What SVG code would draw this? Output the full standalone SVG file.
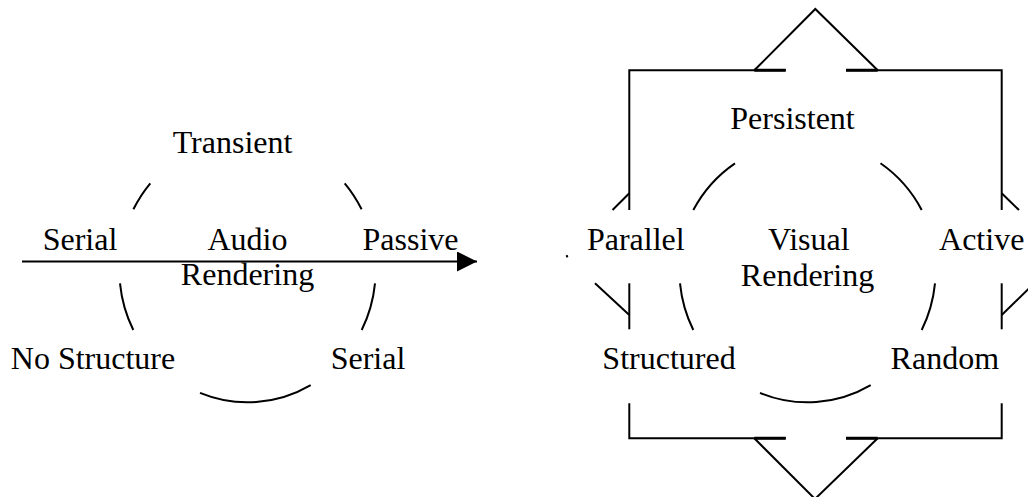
<svg xmlns="http://www.w3.org/2000/svg" width="1028" height="497" viewBox="0 0 1028 497">
  <defs>
    <style>
      .lbl { font-family: "Liberation Serif", "Times New Roman", serif; font-size: 32px; fill: #000; text-anchor: middle; }
      .ring { fill: none; stroke: #000; stroke-width: 2; }
      .frame { fill: none; stroke: #000; stroke-width: 2; stroke-linecap: butt; }
      .frame-thick { fill: none; stroke: #000; stroke-width: 3; }
      .conn { fill: none; stroke: #000; stroke-width: 2; }
    </style>
    <marker id="arrowhead" markerUnits="userSpaceOnUse" markerWidth="22" markerHeight="22" refX="20" refY="10" orient="auto">
      <path d="M0,0 L20,10 L0,20 Z" fill="#000"/>
    </marker>
  </defs>
  <rect width="1028" height="497" fill="#fff"/>

  <!-- Audio ring: broken ellipse around the audio labels -->
  <g id="audio-ring" class="ring">
    <path d="M133.4,209.3 A128.2,132.6 0 0 1 150.3,183.3"/>
    <path d="M344.7,183.3 A128.2,132.6 0 0 1 361.6,209.3"/>
    <path d="M375,283.3 A128.2,132.6 0 0 1 361.7,330"/>
    <path d="M310.7,385.1 A128.2,132.6 0 0 1 200,392.9"/>
    <path d="M133.3,330 A128.2,132.6 0 0 1 120,283.3"/>
  </g>

  <!-- Visual ring: broken ellipse around the visual labels -->
  <g id="visual-ring" class="ring">
    <path d="M693.3,210 A128.2,132.6 0 0 1 735,163.3"/>
    <path d="M880.5,163.3 A128.2,132.6 0 0 1 921.7,210"/>
    <path d="M935,283.3 A128.2,132.6 0 0 1 921.7,330"/>
    <path d="M870.7,385.1 A128.2,132.6 0 0 1 760,392.9"/>
    <path d="M693.3,330 A128.2,132.6 0 0 1 680,283.3"/>
  </g>

  <!-- Visual frame: box with arrowheads on four sides, partly hidden by labels -->
  <g id="visual-frame">
    <!-- top arrowhead and edge -->
    <path class="frame" d="M754.3,70.3 L815.3,9 L877.7,70.3"/>
    <path class="frame" d="M629.3,210 L629.3,70.3 L785.7,70.3"/>
    <path class="frame" d="M846,70.3 L1001.7,70.3 L1001.7,210"/>
    <path class="frame-thick" d="M754.3,70.3 L785.7,70.3 M846,70.3 L877.7,70.3"/>
    <!-- left arrowhead pieces -->
    <path class="frame" d="M629.3,193.3 L612.5,210"/>
    <path class="frame" d="M595,283.3 L629.3,315"/>
    <path class="frame" d="M629.3,283.3 L629.3,329.3"/>
    <path class="frame" d="M566.6,255.2 L567.4,257.4" stroke-width="1.2"/>
    <!-- right arrowhead pieces -->
    <path class="frame" d="M1001.7,193.3 L1019,210"/>
    <path class="frame" d="M1029,288.5 L1001.7,315"/>
    <path class="frame" d="M1001.7,283.3 L1001.7,329.3"/>
    <!-- bottom arrowhead and edge -->
    <path class="frame" d="M629.3,403.3 L629.3,438.3 L785.7,438.3"/>
    <path class="frame" d="M846,438.3 L1001.7,438.3 L1001.7,403.3"/>
    <path class="frame-thick" d="M754.3,438.3 L785.7,438.3 M846,438.3 L877.7,438.3"/>
    <path class="frame" d="M754.3,438.3 L815,499 L877.7,438.3"/>
  </g>

  <!-- Connector from the audio side towards the visual side -->
  <g id="connectors">
    <line class="conn" x1="22" y1="261.5" x2="477" y2="261.5" marker-end="url(#arrowhead)"/>
  </g>

  <!-- Audio labels -->
  <g id="audio-center"><text class="lbl" x="247.5" y="250">Audio</text><text class="lbl" x="247.5" y="285">Rendering</text></g>
  <g id="transient"><text class="lbl" x="232.5" y="153">Transient</text></g>
  <g id="serial-left"><text class="lbl" x="80" y="250">Serial</text></g>
  <g id="passive"><text class="lbl" x="410.5" y="250">Passive</text></g>
  <g id="no-structure"><text class="lbl" x="93" y="369">No Structure</text></g>
  <g id="serial-bottom"><text class="lbl" x="368" y="369">Serial</text></g>

  <!-- Visual labels -->
  <g id="visual-center"><text class="lbl" x="808.8" y="250">Visual</text><text class="lbl" x="807.5" y="285.5">Rendering</text></g>
  <g id="persistent"><text class="lbl" x="792.5" y="129.3">Persistent</text></g>
  <g id="parallel"><text class="lbl" x="635.8" y="250">Parallel</text></g>
  <g id="active"><text class="lbl" x="981.7" y="250">Active</text></g>
  <g id="structured"><text class="lbl" x="669" y="369.3">Structured</text></g>
  <g id="random"><text class="lbl" x="944.8" y="369.3">Random</text></g>
</svg>
